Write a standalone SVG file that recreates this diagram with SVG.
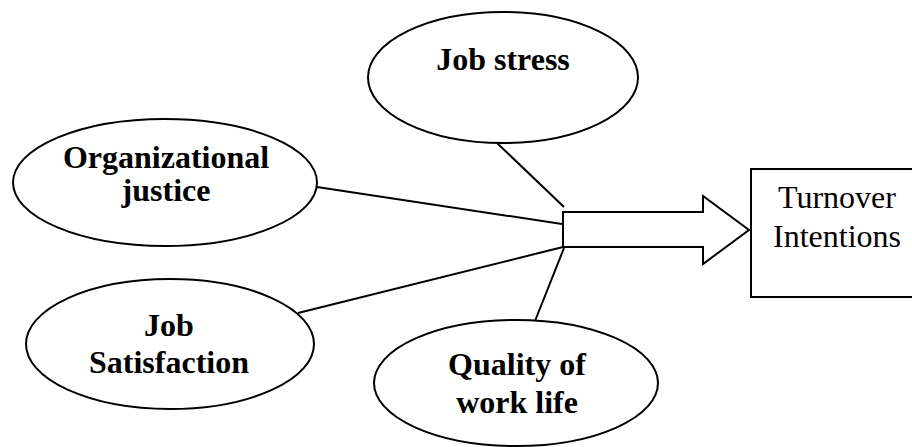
<svg xmlns="http://www.w3.org/2000/svg" width="912" height="447" viewBox="0 0 912 447">
<style>
.shape{fill:#fff;stroke:#000;stroke-width:2}
.conn{stroke:#000;stroke-width:2;fill:none}
.lbl{font-family:"Liberation Serif","Times New Roman",serif;font-size:32px;font-weight:bold;text-anchor:middle;fill:#000}
.reg{font-family:"Liberation Serif","Times New Roman",serif;font-size:32px;text-anchor:middle;fill:#000}
</style>
<rect width="912" height="447" fill="#fff"/>
<g id="connectors">
<line class="conn" x1="497" y1="143" x2="564" y2="207"/>
<line class="conn" x1="317" y1="187" x2="562" y2="224"/>
<line class="conn" x1="298" y1="313" x2="563" y2="247"/>
<line class="conn" x1="535" y1="321" x2="564" y2="248"/>
<polygon class="shape" points="563,212 703,212 703,196 749,230 703,264 703,247 563,247"/>
</g>
<g id="job-stress">
<ellipse class="shape" cx="503" cy="77.5" rx="135" ry="65.5"/>
<text class="lbl" x="503" y="70">Job stress</text>
</g>
<g id="organizational-justice">
<ellipse class="shape" cx="165" cy="182.5" rx="152" ry="63.5"/>
<text class="lbl" x="166" y="168">Organizational</text>
<text class="lbl" x="166" y="201">justice</text>
</g>
<g id="job-satisfaction">
<ellipse class="shape" cx="170" cy="344" rx="144" ry="65"/>
<text class="lbl" x="169" y="336">Job</text>
<text class="lbl" x="169" y="373">Satisfaction</text>
</g>
<g id="quality-of-work-life">
<ellipse class="shape" cx="516" cy="383" rx="142" ry="63"/>
<text class="lbl" x="517" y="375">Quality of</text>
<text class="lbl" x="517" y="413">work life</text>
</g>
<g id="turnover-intentions">
<rect class="shape" x="751" y="169" width="172" height="128"/>
<text class="reg" x="837" y="208">Turnover</text>
<text class="reg" x="837" y="247">Intentions</text>
</g>
</svg>
